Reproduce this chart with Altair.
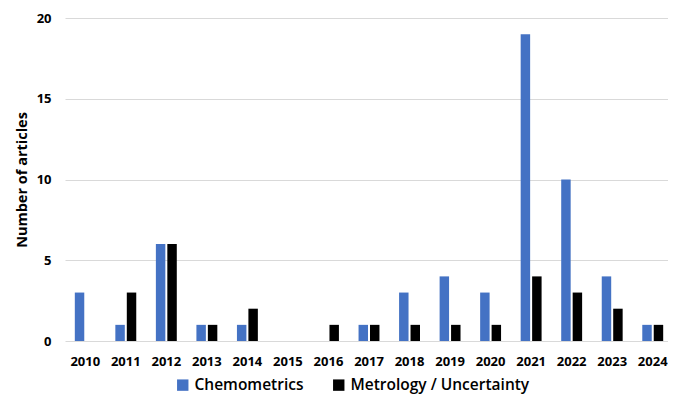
import altair as alt
import pandas as pd

years = [str(y) for y in range(2010, 2025)]
chemometrics = [3, 1, 6, 1, 1, 0, 0, 1, 3, 4, 3, 19, 10, 4, 1]
metrology = [0, 3, 6, 1, 2, 0, 1, 1, 1, 1, 1, 4, 3, 2, 1]
series = ["Chemometrics", "Metrology / Uncertainty"]
colors = ["#4472C4", "#000000"]

rows = []
for i, y in enumerate(years):
    rows.append({"year": y, "series": series[0], "value": chemometrics[i]})
    rows.append({"year": y, "series": series[1], "value": metrology[i]})
df = pd.DataFrame(rows)

FONT = "Open Sans"

chart = alt.Chart(df).mark_bar().encode(
    x=alt.X("year:N", sort=years,
            scale=alt.Scale(paddingInner=0.484, paddingOuter=0.242, range=[0, 608]),
            axis=alt.Axis(title=None, labelAngle=0, ticks=False, tickSize=0, domain=False,
                          labelPadding=14, labelFont=FONT, labelFontSize=13,
                          labelFontWeight="bold", labelColor="#000000", grid=False)),
    xOffset=alt.XOffset("series:N", sort=series,
                        scale=alt.Scale(paddingInner=0.174, paddingOuter=0)),
    y=alt.Y("value:Q",
            scale=alt.Scale(domain=[0, 20], nice=False),
            axis=alt.Axis(title="Number of articles", values=[0, 5, 10, 15, 20],
                          ticks=False, tickSize=0, domain=False, labelPadding=14,
                          labelFont=FONT, labelFontSize=13, labelFontWeight="bold",
                          labelColor="#000000", titleFont=FONT, titleFontSize=14.5,
                          titleFontWeight="bold", titleColor="#000000", titlePadding=7,
                          grid=True, gridColor="#d9d9d9", gridWidth=1)),
    color=alt.Color("series:N", sort=series,
                    scale=alt.Scale(domain=series, range=colors),
                    legend=alt.Legend(title=None, orient="none", direction="horizontal",
                                      legendX=110, legendY=359, symbolType="square",
                                      symbolSize=130, symbolStrokeWidth=0,
                                      labelFont=FONT, labelFontSize=15.5,
                                      labelFontWeight=600, labelColor="#000000",
                                      labelOffset=4, columnPadding=27, labelLimit=400)),
).properties(
    width=603, height=323,
    padding={"left": 57, "top": 10, "right": 0, "bottom": 55},
    autosize=alt.AutoSizeParams(type="none"),
).configure_view(stroke=None)

chart.save("out.html", embed_options={"renderer": "svg", "actions": False})
